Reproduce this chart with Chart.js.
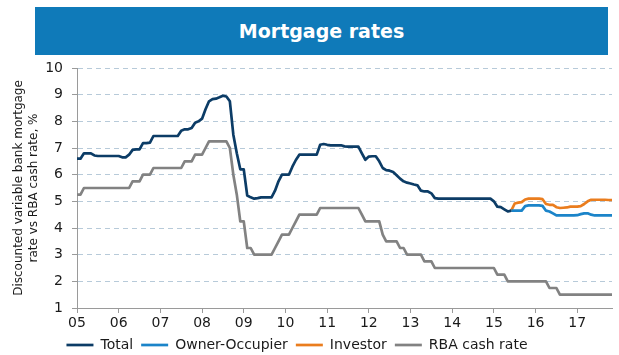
<!DOCTYPE html>
<html>
<head>
<meta charset="utf-8">
<script src="https://cdn.jsdelivr.net/npm/chart.js@4.4.0/dist/chart.umd.min.js"></script>
<style>
html,body{margin:0;padding:0;background:#fff;}
#wrap{position:relative;width:619px;height:355px;overflow:hidden;}
#title{position:absolute;left:35px;top:7px;width:573px;height:48px;background:#0F7AB9;color:#fff;
  font:bold 19px "DejaVu Sans",sans-serif;display:flex;align-items:center;justify-content:center;z-index:2;}
canvas{position:absolute;left:0;top:0;}
</style>
</head>
<body>
<div id="wrap">
  <div id="title">Mortgage rates</div>
  <canvas id="c" width="619" height="355"></canvas>
</div>
<script>
// ---- categories: monthly, Jan 2005 .. Nov 2017
const firstYear = 2005;
const lastMonth = '2017-11';
const months = [];
for (let y = firstYear; ; y++) {
  let done = false;
  for (let m = 1; m <= 12; m++) {
    const key = y + '-' + String(m).padStart(2, '0');
    months.push(key);
    if (key === lastMonth) { done = true; break; }
  }
  if (done) break;
}

// ---- x tick labels (shown at January of each year)
const yearTickLabels = ['05','06','07','08','09','10','11','12','13','14','15','16','17'];
// ---- y ticks
const yTicks = [1,2,3,4,5,6,7,8,9,10];

// ---- series (monthly, %)
const total = [
  6.6, 6.6, 6.8, 6.8, 6.8, 6.72, 6.7, 6.7, 6.7, 6.7, 6.7, 6.7,           // 2005
  6.7, 6.65, 6.65, 6.75, 6.93, 6.95, 6.95, 7.18, 7.18, 7.2, 7.45, 7.45, // 2006
  7.45, 7.45, 7.45, 7.45, 7.45, 7.45, 7.65, 7.7, 7.7, 7.75, 7.95, 8.0,  // 2007
  8.1, 8.45, 8.75, 8.83, 8.85, 8.9, 8.96, 8.93, 8.75, 7.5, 6.8, 6.2,    // 2008
  6.2, 5.22, 5.15, 5.1, 5.12, 5.15, 5.15, 5.15, 5.15, 5.4, 5.75, 6.0,   // 2009
  6.0, 6.0, 6.3, 6.55, 6.75, 6.75, 6.75, 6.75, 6.75, 6.75, 7.12, 7.15,  // 2010
  7.12, 7.1, 7.1, 7.1, 7.1, 7.06, 7.05, 7.05, 7.05, 7.05, 6.8, 6.56,    // 2011
  6.68, 6.69, 6.69, 6.5, 6.25, 6.17, 6.15, 6.1, 5.98, 5.85, 5.75, 5.7,  // 2012
  5.67, 5.63, 5.6, 5.4, 5.37, 5.37, 5.3, 5.12, 5.1, 5.1, 5.1, 5.1,      // 2013
  5.1, 5.1, 5.1, 5.1, 5.1, 5.1, 5.1, 5.1, 5.1, 5.1, 5.1, 5.1,           // 2014
  5.0, 4.8, 4.78, 4.7, 4.62, 4.65                                        // 2015 Jan-Jun
];
const splitMonth = '2015-06';
const ownerOccupier = [ // Jun 2015 .. Nov 2017
  4.65, 4.65, 4.65, 4.65, 4.82, 4.85, 4.85,
  4.85, 4.85, 4.83, 4.65, 4.62, 4.55, 4.47, 4.47, 4.47, 4.47, 4.47, 4.47,
  4.48, 4.52, 4.55, 4.55, 4.5, 4.47, 4.47, 4.47, 4.47, 4.47, 4.47
];
const investor = [ // Jun 2015 .. Nov 2017
  4.65, 4.92, 4.95, 4.97, 5.07, 5.1, 5.1,
  5.1, 5.1, 5.08, 4.9, 4.87, 4.87, 4.78, 4.75, 4.76, 4.77, 4.8, 4.8,
  4.8, 4.82, 4.9, 5.0, 5.06, 5.06, 5.06, 5.06, 5.06, 5.05, 5.05
];
const rbaCashRate = [
  5.25, 5.25, 5.5, 5.5, 5.5, 5.5, 5.5, 5.5, 5.5, 5.5, 5.5, 5.5,          // 2005
  5.5, 5.5, 5.5, 5.5, 5.75, 5.75, 5.75, 6.0, 6.0, 6.0, 6.25, 6.25,      // 2006
  6.25, 6.25, 6.25, 6.25, 6.25, 6.25, 6.25, 6.5, 6.5, 6.5, 6.75, 6.75,  // 2007
  6.75, 7.0, 7.25, 7.25, 7.25, 7.25, 7.25, 7.25, 7.0, 6.0, 5.25, 4.25,  // 2008
  4.25, 3.25, 3.25, 3.0, 3.0, 3.0, 3.0, 3.0, 3.0, 3.25, 3.5, 3.75,      // 2009
  3.75, 3.75, 4.0, 4.25, 4.5, 4.5, 4.5, 4.5, 4.5, 4.5, 4.75, 4.75,      // 2010
  4.75, 4.75, 4.75, 4.75, 4.75, 4.75, 4.75, 4.75, 4.75, 4.75, 4.5, 4.25, // 2011
  4.25, 4.25, 4.25, 4.25, 3.75, 3.5, 3.5, 3.5, 3.5, 3.25, 3.25, 3.0,    // 2012
  3.0, 3.0, 3.0, 3.0, 2.75, 2.75, 2.75, 2.5, 2.5, 2.5, 2.5, 2.5,        // 2013
  2.5, 2.5, 2.5, 2.5, 2.5, 2.5, 2.5, 2.5, 2.5, 2.5, 2.5, 2.5,           // 2014
  2.5, 2.25, 2.25, 2.25, 2.0, 2.0, 2.0, 2.0, 2.0, 2.0, 2.0, 2.0,        // 2015
  2.0, 2.0, 2.0, 2.0, 1.75, 1.75, 1.75, 1.5, 1.5, 1.5, 1.5, 1.5,        // 2016
  1.5, 1.5, 1.5, 1.5, 1.5, 1.5, 1.5, 1.5, 1.5, 1.5, 1.5                 // 2017 Jan-Nov
];

const seriesNames = ['Total', 'Owner-Occupier', 'Investor', 'RBA cash rate'];
const seriesColors = ['#0C3C66', '#1B84C9', '#EA7D1E', '#828282'];

const splitIdx = months.indexOf(splitMonth);
const pad = arr => new Array(splitIdx).fill(null).concat(arr);
const seriesData = [total, pad(ownerOccupier), pad(investor), rbaCashRate];

Chart.defaults.font.family = '"DejaVu Sans", Verdana, sans-serif';
Chart.defaults.color = '#1a1a1a';

// shift the legend block slightly left, as in the original layout
const legendShift = {
  id: 'legendShift',
  afterLayout(chart) {
    if (chart.legend) { chart.legend.left -= 9; chart.legend.right -= 9; }
  }
};

new Chart(document.getElementById('c'), {
  type: 'line',
  plugins: [legendShift],
  data: {
    labels: months,
    datasets: seriesNames.map((name, k) => ({
      label: name,
      data: seriesData[k],
      borderColor: seriesColors[k],
      backgroundColor: seriesColors[k],
      borderWidth: 2.7,
      pointRadius: 0,
      tension: 0,
      fill: false,
      spanGaps: false,
      borderJoinStyle: 'round'
    }))
  },
  options: {
    responsive: false,
    animation: false,
    devicePixelRatio: 1,
    layout: { padding: { left: 0, right: 7, top: 68, bottom: -7 } },
    plugins: {
      title: { display: false },
      tooltip: { enabled: false },
      legend: {
        position: 'bottom',
        labels: {
          usePointStyle: true,
          pointStyle: 'line',
          pointStyleWidth: 27,
          boxHeight: 14,
          padding: 8,
          font: { size: 14 },
          color: '#1a1a1a'
        }
      }
    },
    scales: {
      x: {
        type: 'category',
        offset: false,
        grid: { drawOnChartArea: false, drawTicks: true, tickLength: 5, tickColor: '#9a9a9a', color: '#9a9a9a' },
        border: { display: true, color: '#9a9a9a', width: 1 },
        ticks: {
          autoSkip: false, maxRotation: 0, minRotation: 0, padding: 2,
          font: { size: 14 }, color: '#1a1a1a',
          callback: function (v) {
            const lab = months[v];
            const yi = parseInt(lab.slice(0, 4), 10) - firstYear;
            return lab.endsWith('-01') ? yearTickLabels[yi] : '';
          }
        },
        afterBuildTicks: s => { s.ticks = s.ticks.filter(t => months[t.value].endsWith('-01')); },
        afterFit: s => { s.height = 22; }
      },
      y: {
        min: 1, max: 10,
        grid: { color: '#B7CAD9', tickColor: '#9a9a9a', tickLength: 5, lineWidth: 1 },
        border: { display: true, color: '#9a9a9a', width: 1, dash: [5, 4] },
        ticks: {
          stepSize: 1, padding: 9, font: { size: 14 }, color: '#1a1a1a',
          callback: v => (yTicks.includes(v) ? String(v) : '')
        },
        title: {
          display: true,
          text: ['Discounted variable bank mortgage', 'rate vs RBA cash rate, %'],
          font: { size: 12 }, color: '#1a1a1a',
          padding: { top: 12, bottom: 0 }
        },
        afterFit: s => { s.width = 77; }
      }
    }
  }
});
</script>
</body>
</html>
